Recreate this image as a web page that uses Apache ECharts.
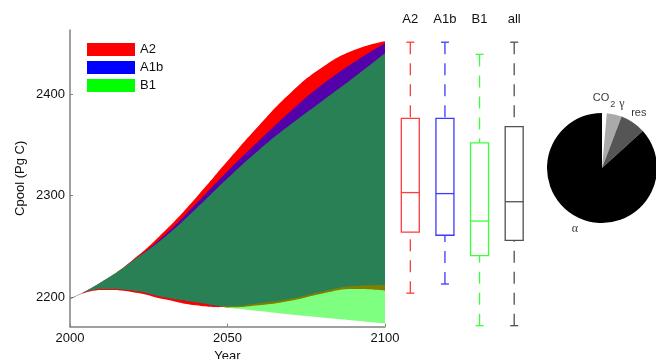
<!DOCTYPE html>
<html lang="en">

<head>
    <meta charset="UTF-8">
    <title>Cpool scenarios</title>
    <script src="https://cdn.jsdelivr.net/npm/echarts@6/dist/echarts.min.js"></script>
    <style>
        html, body { margin: 0; padding: 0; background: #fff; }
        #chart { width: 656px; height: 359px; }
    </style>
</head>

<body>
    <div id="chart"></div>

    <script>
        // band envelopes per scenario
        var years = ['2000', '2010', '2020', '2030', '2040', '2050', '2060', '2070', '2080', '2090', '2100'];
        var a2Lower = [2198, 2207, 2205, 2198, 2192, 2190, 2192, 2196.5, 2203.5, 2208, 2206.5];
        var a2Upper = [2198, 2215, 2237, 2265, 2298, 2334, 2369, 2401, 2426, 2443, 2452];
        var a1bLower = [2198, 2208, 2206.5, 2200, 2195, 2191, 2194, 2198.5, 2205.5, 2211, 2212];
        var a1bUpper = [2198, 2215, 2236, 2261, 2292, 2324, 2354, 2383, 2409, 2431, 2450];
        var b1Lower = [2198, 2208, 2206.5, 2200, 2195, 2190, 2186.5, 2183, 2180, 2177, 2174];
        var b1Upper = [2198, 2215, 2236, 2259, 2287, 2317, 2345, 2370, 2393, 2416, 2440];
        var yTicks = [2200, 2300, 2400];

        // box plots: min, q1, median, q3, max
        var boxCats = ['A2', 'A1b', 'B1', 'all'];
        var boxStats = [
            [2204, 2264, 2303, 2376, 2451],
            [2213, 2261, 2302, 2376, 2451],
            [2172, 2241, 2275, 2352, 2439],
            [2172, 2256, 2294, 2368, 2451]
        ];
        var boxColors = ['#ff3b3b', '#3b3bff', '#3bff3b', '#505050'];

        // pie
        var pieNames = ['CO2', 'γ', 'res', 'α'];
        var pieValues = [1.4, 4.4, 7.5, 86.7];
        var pieColors = ['#ffffff', '#aaaaaa', '#555555', '#000000'];

        var font = 'Liberation Sans, Arial, sans-serif';
        var yMin = 2171, yMax = 2463;

        function diffs(up, lo) {
            return up.map(function (v, i) { return v - lo[i]; });
        }

        function band(name, lo, up, fill, solid) {
            return [
                {
                    name: name + '_lo', type: 'line', stack: name, data: lo,
                    smooth: true, symbol: 'none', silent: true,
                    lineStyle: { opacity: 0 }
                },
                {
                    name: name, type: 'line', stack: name, data: diffs(up, lo),
                    smooth: true, symbol: 'none', silent: true,
                    itemStyle: { color: solid },
                    lineStyle: { width: 0, opacity: 0 },
                    areaStyle: { color: fill, opacity: 1 }
                }
            ];
        }

        function renderBox(params, api) {
            var i = api.value(0);
            var x = api.coord([i, api.value(1)])[0];
            var pMin = api.coord([i, api.value(1)])[1];
            var pQ1 = api.coord([i, api.value(2)])[1];
            var pMed = api.coord([i, api.value(3)])[1];
            var pQ3 = api.coord([i, api.value(4)])[1];
            var pMax = api.coord([i, api.value(5)])[1];
            var c = boxColors[params.dataIndex];
            var half = 9, cap = 4;
            var solid = { stroke: c, lineWidth: 1.3, fill: null };
            var dashed = { stroke: c, lineWidth: 1.3, lineDash: [12, 9] };
            return {
                type: 'group',
                children: [
                    { type: 'line', shape: { x1: x, y1: pMax, x2: x, y2: pQ3 }, style: dashed },
                    { type: 'line', shape: { x1: x, y1: pMin, x2: x, y2: pQ1 }, style: dashed },
                    { type: 'line', shape: { x1: x - cap, y1: pMax, x2: x + cap, y2: pMax }, style: solid },
                    { type: 'line', shape: { x1: x - cap, y1: pMin, x2: x + cap, y2: pMin }, style: solid },
                    { type: 'rect', shape: { x: x - half, y: pQ3, width: half * 2, height: pQ1 - pQ3 }, style: solid },
                    { type: 'line', shape: { x1: x - half, y1: pMed, x2: x + half, y2: pMed }, style: solid }
                ]
            };
        }

        var pieLabel = {
            'CO2': '{t|CO}{s|2}',
            'γ': '{g|γ}',
            'res': '{t|res}',
            'α': '{g|α}'
        };
        // small nudges so the labels do not run into each other
        var pieLabelOffset = {
            'CO2': [-1, -3],
            'γ': [5, 1],
            'res': [-1, 0],
            'α': [0, 0]
        };

        // slice mid angles (in value units) for placing labels on a polar grid
        var pieTotal = pieValues.reduce(function (a, b) { return a + b; }, 0);
        var pieMids = [];
        pieValues.reduce(function (acc, v) { pieMids.push(acc + v / 2); return acc + v; }, 0);

        var chartDom = document.getElementById('chart');
        var myChart = echarts.init(chartDom);
        var option;

        var series = []
            .concat(band('A2', a2Lower, a2Upper, '#ff0000', '#ff0000'))
            .concat(band('A1b', a1bLower, a1bUpper, 'rgba(0,0,255,0.67)', '#0000ff'))
            .concat(band('B1', b1Lower, b1Upper, 'rgba(0,255,0,0.5)', '#00ff00'));

        series.push({
            type: 'custom', xAxisIndex: 1, yAxisIndex: 1, silent: true,
            renderItem: renderBox,
            encode: { x: 0, y: [1, 2, 3, 4, 5] },
            data: boxStats.map(function (s, i) { return [i].concat(s); })
        });

        series.push({
            type: 'pie', center: [602, 168], radius: 55, startAngle: 90,
            silent: true, label: { show: false }, labelLine: { show: false },
            data: pieNames.map(function (n, i) {
                return { name: n, value: pieValues[i], itemStyle: { color: pieColors[i] } };
            })
        });

        // slice labels, placed on a polar grid around the pie
        series.push({
            type: 'scatter', coordinateSystem: 'polar', symbolSize: 0, silent: true,
            data: pieNames.map(function (n, i) {
                return { name: n, value: [1, pieMids[i]], label: { offset: pieLabelOffset[n] } };
            }),
            label: {
                show: true, position: 'inside', color: '#000',
                formatter: function (p) { return pieLabel[p.name]; },
                rich: {
                    t: { fontFamily: font, fontSize: 11, color: '#000' },
                    s: { fontFamily: font, fontSize: 9, color: '#000', padding: [13, 0, 0, 1] },
                    g: { fontFamily: 'Liberation Serif, serif', fontSize: 12, color: '#000' }
                }
            }
        });

        option = {
            animation: false,
            textStyle: { fontFamily: font },
            legend: {
                left: 82, top: 38, orient: 'vertical',
                icon: 'rect', itemWidth: 48, itemHeight: 13, itemGap: 5,
                selectedMode: false,
                textStyle: { fontFamily: font, fontSize: 13, color: '#111' },
                data: [
                    { name: 'A2', itemStyle: { color: '#ff0000' } },
                    { name: 'A1b', itemStyle: { color: '#0000ff' } },
                    { name: 'B1', itemStyle: { color: '#00ff00' } }
                ]
            },
            grid: [
                { left: 70, top: 30, width: 315, bottom: 32.3, outerBoundsMode: 'none' },
                { left: 393, top: 30, width: 138.5, bottom: 32.3, outerBoundsMode: 'none' }
            ],
            polar: { center: [602, 168], radius: 67 },
            angleAxis: {
                type: 'value', min: 0, max: pieTotal, startAngle: 90, clockwise: true,
                show: false, splitLine: { show: false }
            },
            radiusAxis: { type: 'value', min: 0, max: 1, show: false, splitLine: { show: false } },
            xAxis: [
                {
                    type: 'category', gridIndex: 0, data: years, boundaryGap: false,
                    name: 'Year', nameLocation: 'middle', nameGap: 22,
                    nameTextStyle: { fontSize: 13, color: '#111' },
                    splitLine: { show: false },
                    axisLine: { lineStyle: { color: '#808080', width: 1.5 } },
                    axisTick: { inside: true, length: 3, interval: 4, lineStyle: { color: '#808080' } },
                    axisLabel: { interval: 4, fontSize: 13, color: '#111', margin: 5 }
                },
                {
                    type: 'category', gridIndex: 1, data: boxCats, position: 'top',
                    axisLine: { show: false }, axisTick: { show: false },
                    axisLabel: { fontSize: 13, color: '#111', margin: 4 }
                }
            ],
            yAxis: [
                {
                    type: 'value', gridIndex: 0, min: yMin, max: yMax,
                    name: 'Cpool (Pg C)', nameLocation: 'middle', nameGap: 43,
                    nameTextStyle: { fontSize: 13, color: '#111' },
                    splitLine: { show: false },
                    axisLine: { show: true, lineStyle: { color: '#808080', width: 1.5 } },
                    axisTick: { show: true, inside: true, length: 3, customValues: yTicks, lineStyle: { color: '#808080' } },
                    axisLabel: {
                        customValues: yTicks, fontSize: 13, color: '#111', margin: 5,
                        formatter: function (v) { return String(v); }
                    }
                },
                {
                    type: 'value', gridIndex: 1, min: yMin, max: yMax, show: false
                }
            ],
            series: series
        };

        option && myChart.setOption(option);
    </script>

</body>

</html>
